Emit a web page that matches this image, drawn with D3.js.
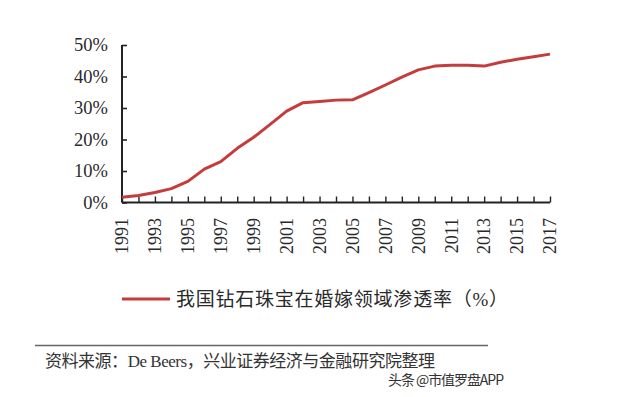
<!DOCTYPE html>
<html>
<head>
<meta charset="utf-8">
<script src="https://cdn.jsdelivr.net/npm/d3@7"></script>
<style>
  body { margin: 0; background: #fff; }
  svg { display: block; }
</style>
</head>
<body>
<svg id="chart"></svg>
<script>
var years = d3.range(1991, 2018);
var rate = [1.7, 2.2, 3.2, 4.4, 6.7, 10.6, 13.0, 17.2, 20.7, 24.8, 29.0, 31.7, 32.1, 32.5, 32.6,
            34.9, 37.3, 39.8, 42.1, 43.3, 43.6, 43.6, 43.3, 44.5, 45.5, 46.3, 47.1];
var yTicks = [0, 10, 20, 30, 40, 50];
var labelYears = years.filter(function(d) { return (d - 1991) % 2 === 0; });
var seriesName = "我国钻石珠宝在婚嫁领域渗透率（%）";
var sourceText = "资料来源：De Beers，兴业证券经济与金融研究院整理";
var watermark = "头条 @市值罗盘APP";

var width = 640, height = 397;
var svg = d3.select("svg#chart").attr("width", width).attr("height", height);

var serif = "'Liberation Serif', 'Noto Sans CJK SC', serif";
var red = "#c43c3c";

var x = d3.scaleLinear().domain([1991, 2017]).range([122, 550]);
var y = d3.scaleLinear().domain([0, 50]).range([202.5, 45]);

// y axis, ticks pointing inward
var yAxis = svg.append("g")
    .attr("transform", "translate(" + x(1991) + ",0)")
    .call(d3.axisRight(y).tickValues(yTicks).tickSize(5).tickFormat(""));
yAxis.select(".domain").attr("d", "M0," + y(0) + "V" + y(50)).attr("stroke", "#222").attr("stroke-width", 2);
yAxis.selectAll(".tick line").attr("stroke", "#222").attr("stroke-width", 1.6);

svg.append("g").selectAll("text")
  .data(yTicks)
  .enter().append("text")
    .attr("x", 108)
    .attr("y", function(d) { return y(d); })
    .attr("dy", "0.35em")
    .attr("text-anchor", "end")
    .style("font-family", serif)
    .style("font-size", "18.5px")
    .attr("fill", "#2a2a2a")
    .text(function(d) { return d + "%"; });

// x axis, ticks pointing up
var xAxis = svg.append("g")
    .attr("transform", "translate(0," + y(0) + ")")
    .call(d3.axisTop(x).tickValues(years).tickSize(6).tickFormat(""));
xAxis.select(".domain").attr("d", "M" + x(1991) + ",0H" + x(2017)).attr("stroke", "#222").attr("stroke-width", 2);
xAxis.selectAll(".tick line").attr("stroke", "#222").attr("stroke-width", 1.4);

svg.append("g").selectAll("text")
  .data(labelYears)
  .enter().append("text")
    .attr("transform", function(d) { return "translate(" + x(d) + ",218) rotate(-90)"; })
    .attr("dy", "0.35em")
    .attr("text-anchor", "end")
    .style("font-family", serif)
    .style("font-size", "18px")
    .attr("fill", "#2a2a2a")
    .text(function(d) { return d; });

// series line
var line = d3.line()
    .x(function(d, i) { return x(years[i]); })
    .y(function(d) { return y(d); });

svg.append("path")
    .datum(rate)
    .attr("fill", "none")
    .attr("stroke", red)
    .attr("stroke-width", 3)
    .attr("stroke-linejoin", "round")
    .attr("d", line);

// legend
svg.append("line")
    .attr("x1", 122).attr("x2", 170)
    .attr("y1", 299).attr("y2", 299)
    .attr("stroke", red).attr("stroke-width", 3);
svg.append("text")
    .attr("x", 176).attr("y", 299)
    .attr("dy", "0.35em")
    .attr("textLength", 332)
    .style("font-family", serif)
    .style("font-size", "19px")
    .attr("fill", "#2a2a2a")
    .text(seriesName);

// source
svg.append("line")
    .attr("x1", 35).attr("x2", 488)
    .attr("y1", 345.5).attr("y2", 345.5)
    .attr("stroke", "#666").attr("stroke-width", 1.5);
svg.append("text")
    .attr("x", 45).attr("y", 361)
    .attr("dy", "0.35em")
    .attr("textLength", 390)
    .style("font-family", serif)
    .style("font-size", "17px")
    .attr("fill", "#333")
    .text(sourceText);

svg.append("text")
    .attr("x", 388).attr("y", 380)
    .attr("dy", "0.35em")
    .attr("textLength", 116)
    .style("font-family", "'Noto Sans CJK SC', sans-serif")
    .style("font-size", "14px")
    .attr("fill", "#333")
    .text(watermark);
</script>
</body>
</html>
